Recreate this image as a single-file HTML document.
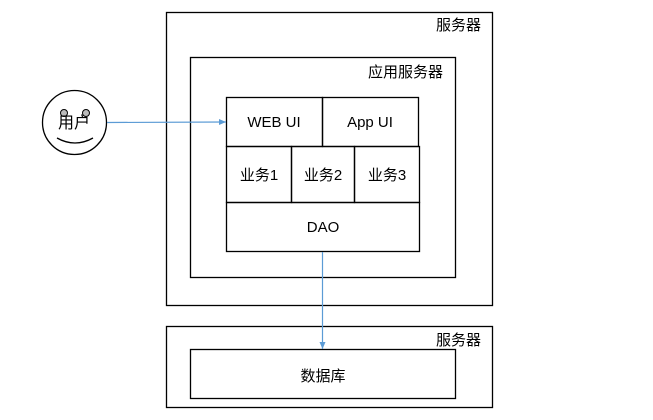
<!DOCTYPE html>
<html><head><meta charset="utf-8"><style>
body{margin:0;background:#fff;}
text{font-family:"Liberation Sans","Noto Sans CJK SC",sans-serif;font-size:15px;fill:#000;}
</style></head><body>
<svg width="653" height="415" xmlns="http://www.w3.org/2000/svg">
<defs><marker id="a" markerWidth="8" markerHeight="8" refX="7" refY="4" orient="auto" markerUnits="userSpaceOnUse"><path d="M0,1 L7,4 L0,7 z" fill="#5b9bd5"/></marker></defs>
<g fill="none" stroke="#000" stroke-width="1.3">
<rect x="166.5" y="12.5" width="326" height="293"/>
<rect x="190.5" y="57.5" width="265" height="220"/>
<rect x="226.5" y="97.5" width="96" height="49"/>
<rect x="322.5" y="97.5" width="96" height="49"/>
<rect x="226.5" y="146.5" width="65" height="56"/>
<rect x="291.5" y="146.5" width="63" height="56"/>
<rect x="354.5" y="146.5" width="65" height="56"/>
<rect x="226.5" y="202.5" width="193" height="49"/>
<rect x="166.5" y="326.5" width="326" height="81"/>
<rect x="190.5" y="349.5" width="265" height="49"/>
<circle cx="74.5" cy="122.5" r="32"/>
<path d="M57,138 Q75,148 93,138"/>
</g>
<circle cx="64" cy="113" r="3.5" fill="#bbb" stroke="#000" stroke-width="1"/>
<circle cx="86" cy="113" r="3.5" fill="#bbb" stroke="#000" stroke-width="1"/>
<line x1="107" y1="122.5" x2="226" y2="122" stroke="#5b9bd5" stroke-width="1.2" marker-end="url(#a)"/>
<line x1="322.5" y1="252" x2="322.5" y2="349" stroke="#5b9bd5" stroke-width="1.2" marker-end="url(#a)"/>
<text x="436" y="30">服务器</text>
<text x="368" y="77">应用服务器</text>
<text x="436" y="345">服务器</text>
<text x="74" y="128" text-anchor="middle" style="font-size:16px">用户</text>
<text x="274" y="127" text-anchor="middle">WEB UI</text>
<text x="370" y="127" text-anchor="middle">App UI</text>
<text x="259" y="180" text-anchor="middle">业务1</text>
<text x="323" y="180" text-anchor="middle">业务2</text>
<text x="387" y="180" text-anchor="middle">业务3</text>
<text x="323" y="232" text-anchor="middle">DAO</text>
<text x="323" y="381" text-anchor="middle">数据库</text>
</svg>
</body></html>
